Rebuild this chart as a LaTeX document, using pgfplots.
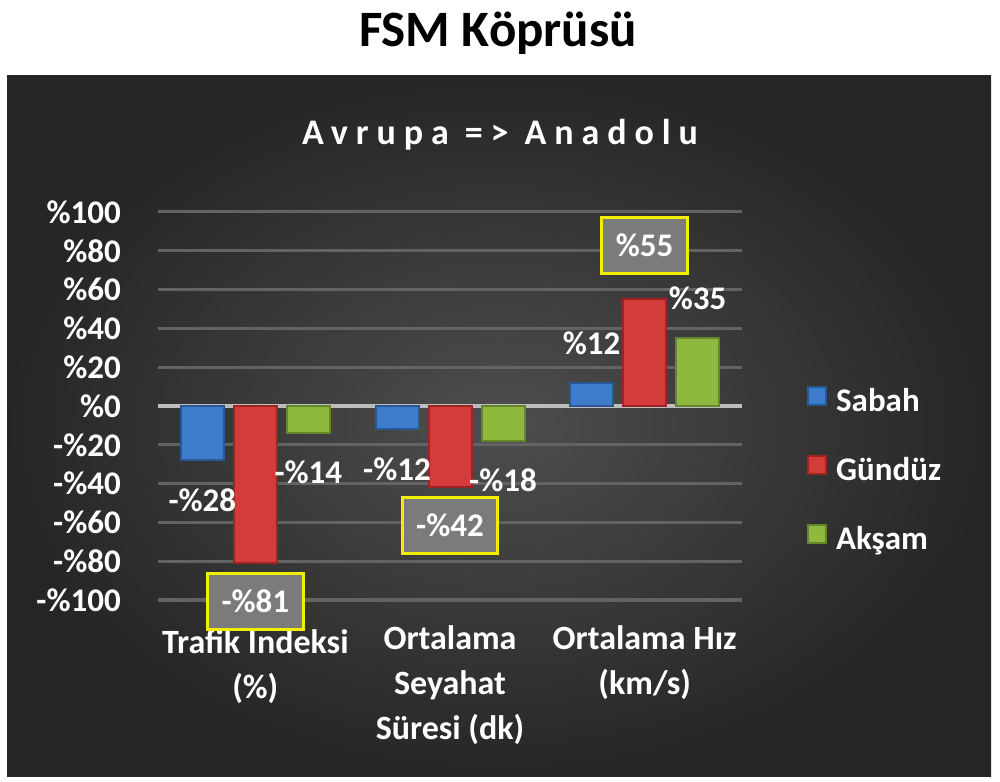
\documentclass[border=0pt]{standalone}
\usepackage{fontspec}
\setmainfont{Carlito}
\usepackage{pgfplots}
\pgfplotsset{compat=1.18}

\definecolor{panelIn}{HTML}{4E4E4E}
\definecolor{panelOut}{HTML}{262626}
\definecolor{gridc}{HTML}{636363}
\definecolor{zeroc}{HTML}{BDBDBD}
\definecolor{bluM}{HTML}{3F7DCC}
\definecolor{bluD}{HTML}{2A5896}
\definecolor{redM}{HTML}{D43C3C}
\definecolor{redD}{HTML}{9E2424}
\definecolor{grnM}{HTML}{8FB83E}
\definecolor{grnD}{HTML}{66862A}
\definecolor{boxc}{HTML}{7B7B7B}
\definecolor{boxy}{HTML}{F2EE00}

\newcommand\lblfont{\bfseries\fontsize{33}{45}\selectfont}
\newcommand\catfont{\bfseries\fontsize{34}{45}\selectfont}
% "-%28" style label from a raw value
\newcommand\pctlabel[1]{\pgfmathtruncatemacro\pv{abs(#1)}\pgfmathtruncatemacro\ps{(#1)<0}\ifnum\ps=1 -\fi\%\pv}

\pgfplotsset{
  bevel/.style 2 args={fill=#1, draw=#2, line width=2pt},
  plain label/.style={
    visualization depends on={rawy \as \rawy},
    nodes near coords={\pctlabel{\rawy}},
    every node near coord/.append style={text=white, font=\lblfont,
      inner sep=0pt, yshift={(\rawy<0)?-27:27}}},
  box label/.style={
    visualization depends on={rawy \as \rawy},
    nodes near coords={\pctlabel{\rawy}},
    every node near coord/.append style={text=white, font=\lblfont,
      fill=boxc, draw=boxy, line width=3pt, inner xsep=14pt, inner ysep=17pt,
      text height=22pt, text depth=0pt,
      yshift={(\rawy<0)?-9:24}}},
}

\begin{document}
\begin{tikzpicture}
\useasboundingbox (0pt,0pt) rectangle (1000pt,781pt);
% background panel
\shade[inner color=panelIn, outer color=panelOut] (7pt,5pt) rectangle (991pt,705pt);
% titles
\node[font=\bfseries\fontsize{51}{51}\selectfont] at (498pt,748pt) {FSM Köprüsü};
\node[text=white, font=\bfseries\fontsize{36}{36}\selectfont\addfontfeatures{LetterSpace=22}] at (500pt,646pt) {Avrupa => Anadolu};

\begin{axis}[
  at={(158pt,181pt)}, anchor=south west,
  scale only axis, width=584pt, height=388pt,
  xmin=-0.5, xmax=2.5, ymin=-100, ymax=100,
  ybar=10pt, bar width=43pt,
  clip=false,
  axis line style={draw=none},
  major tick length=0pt,
  ytick={-100,-80,...,100},
  yticklabels={-\%100,-\%80,-\%60,-\%40,-\%20,\%0,\%20,\%40,\%60,\%80,\%100},
  ymajorgrids, grid style={gridc, line width=3pt},
  extra y ticks={0}, extra y tick labels={},
  extra y tick style={grid style={zeroc, line width=4pt}},
  xtick={0,1,2},
  xticklabels={{Trafik İndeksi\\(\%)},{Ortalama\\Seyahat\\Süresi (dk)},{Ortalama Hız\\(km/s)}},
  yticklabel style={text=white, font=\lblfont, anchor=east, inner sep=0pt, xshift=-37pt},
  xticklabel style={text=white, font=\catfont, align=center, anchor=north, inner sep=0pt, yshift=-25pt},
  legend style={at={(1.106,0.33)}, anchor=west, draw=none, fill=none,
    text=white, font=\lblfont, row sep=35pt, column sep=9pt,
    nodes={inner sep=0pt, text height=24pt, text depth=8pt}},
  legend cell align=left,
  legend image code/.code={\path[#1] (0pt,-1pt) rectangle (18pt,17pt);},
]
\addplot[bevel={bluM}{bluD}, plain label] coordinates {(0,-28) (1,-12) (2,12)};
\addplot[bevel={redM}{redD}, box label] coordinates {(0,-81) (1,-42) (2,55)};
\addplot[bevel={grnM}{grnD}, plain label] coordinates {(0,-14) (1,-18) (2,35)};
\legend{Sabah,Gündüz,Akşam}
\end{axis}
\end{tikzpicture}
\end{document}
